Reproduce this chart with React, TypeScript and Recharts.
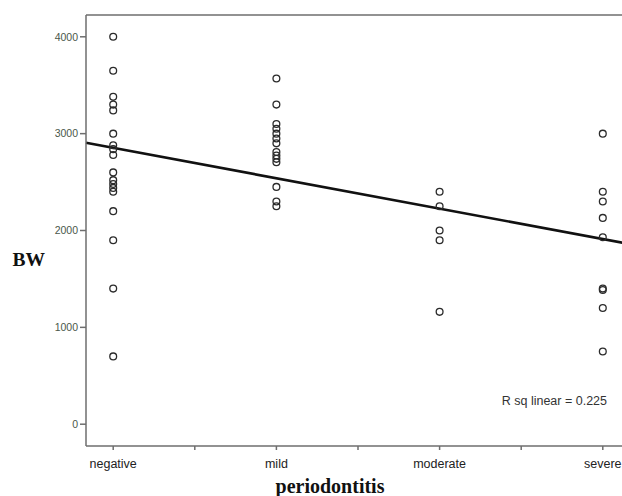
import { ScatterChart, Scatter, XAxis, YAxis, ReferenceLine } from 'recharts';

const CATEGORIES = ['negative', 'mild', 'moderate', 'severe'];

// birth weight (BW) per periodontitis group
const NEGATIVE = [4000, 3650, 3380, 3300, 3240, 3000, 2880, 2840, 2780, 2600, 2520, 2480, 2440, 2400, 2200, 1900, 1400, 700];
const MILD = [3570, 3300, 3100, 3050, 3000, 2950, 2900, 2810, 2775, 2740, 2705, 2450, 2300, 2250];
const MODERATE = [2400, 2250, 2000, 1900, 1160];
const SEVERE = [3000, 2400, 2300, 2130, 1930, 1400, 1385, 1200, 750];

const Y_TICKS = [0, 1000, 2000, 3000, 4000];
const X_TICKS = [1, 1.5, 2, 2.5, 3, 3.5, 4];
const X_DOMAIN = [5 / 6, 25 / 6];
const Y_DOMAIN = [-225, 4225];

// fit line end points (at the plot's left and right edges)
const FIT_X = [5 / 6, 25 / 6];
const FIT_Y = [2906, 1859];
const R_SQ = 0.225;

const GROUPS = [NEGATIVE, MILD, MODERATE, SEVERE];
const points = GROUPS.flatMap((vals, i) => vals.map((v) => ({ x: i + 1, y: v })));

const AXIS = '#6e6e6e';

const Ring = (props: any) => (
  <circle cx={props.cx} cy={props.cy} r={3.4} fill="none" stroke="#2b2b2b" strokeWidth={1.3} />
);

const XTick = (props: any) => {
  const { x, y, payload } = props;
  const v = payload.value;
  if (!Number.isInteger(v)) return null;
  return (
    <text x={x} y={y + 16} textAnchor="middle" fontSize={12.5} fill="#222" fontFamily="'Liberation Sans', Arial, sans-serif">
      {CATEGORIES[v - 1]}
    </text>
  );
};

export default function App() {
  return (
    <div style={{ position: 'fixed', left: 0, top: 0, width: 622, height: 496, overflow: 'hidden', background: '#fff' }}>
      <ScatterChart width={640} height={496} margin={{ top: 15, right: 10, left: 0, bottom: 20 }}>
        <XAxis
          type="number"
          dataKey="x"
          domain={X_DOMAIN}
          ticks={X_TICKS}
          allowDataOverflow
          height={30}
          tick={<XTick />}
          tickSize={4}
          stroke={AXIS}
          strokeWidth={1.5}
        />
        <YAxis
          type="number"
          dataKey="y"
          domain={Y_DOMAIN}
          ticks={Y_TICKS}
          allowDataOverflow
          width={86}
          tickSize={6}
          tickMargin={2}
          tick={{ fontSize: 10.5, fill: '#4a584a', fontFamily: "'Liberation Sans', Arial, sans-serif" }}
          stroke={AXIS}
          strokeWidth={1.5}
        />
        <ReferenceLine y={Y_DOMAIN[1]} stroke={AXIS} strokeWidth={1.5} />
        <Scatter data={points} shape={<Ring />} isAnimationActive={false} />
        <ReferenceLine
          segment={[{ x: FIT_X[0], y: FIT_Y[0] }, { x: FIT_X[1], y: FIT_Y[1] }]}
          stroke="#111"
          strokeWidth={2.6}
          ifOverflow="visible"
        />
      </ScatterChart>
      <svg width={622} height={496} style={{ position: 'absolute', left: 0, top: 0, pointerEvents: 'none' }}>
        <text x={12.5} y={266} fontSize={19.5} fontWeight="bold" fill="#111" fontFamily="'Liberation Serif', 'Times New Roman', serif">
          BW
        </text>
        <text x={330} y={493} textAnchor="middle" fontSize={20} fontWeight="bold" fill="#111" fontFamily="'Liberation Serif', 'Times New Roman', serif">
          periodontitis
        </text>
        <text x={607} y={405} textAnchor="end" fontSize={12.5} fill="#333" fontFamily="'Liberation Sans', Arial, sans-serif">
          {`R sq linear = ${R_SQ}`}
        </text>
      </svg>
    </div>
  );
}
